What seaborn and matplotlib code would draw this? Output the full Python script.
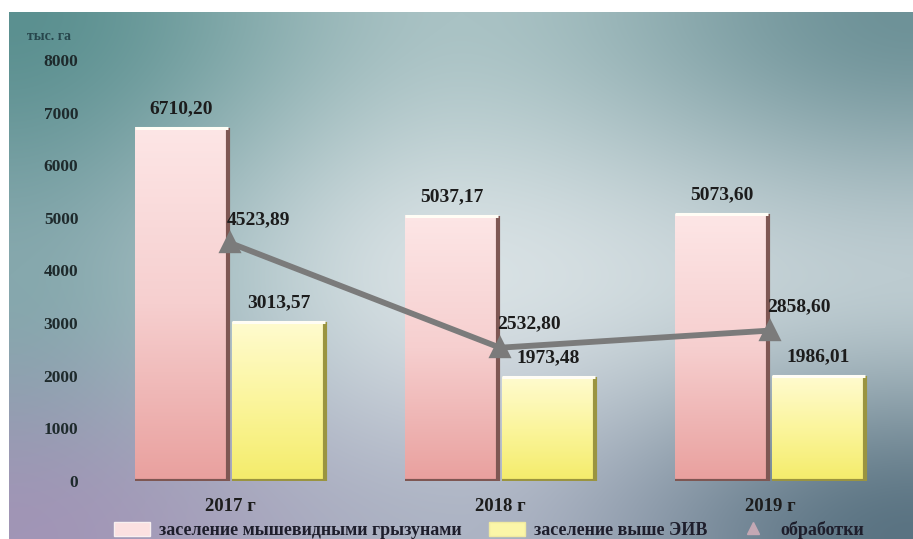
import numpy as np
import pandas as pd
import matplotlib
matplotlib.use("Agg")
import matplotlib.pyplot as plt
from matplotlib.colors import to_rgb, LinearSegmentedColormap
from matplotlib.patches import Rectangle
from matplotlib.lines import Line2D
import seaborn as sns

# --- data -------------------------------------------------------------
years = ["2017 г", "2018 г", "2019 г"]
populated = [6710.20, 5037.17, 5073.60]        # заселение мышевидными грызунами
above_threshold = [3013.57, 1973.48, 1986.01]  # заселение выше ЭИВ
treatments = [4523.89, 2532.80, 2858.60]       # обработки
series_names = ["заселение мышевидными грызунами", "заселение выше ЭИВ", "обработки"]
y_ticks = [0, 1000, 2000, 3000, 4000, 5000, 6000, 7000, 8000]
unit_label = "тыс. га"

df = pd.DataFrame({
    "year": years * 2,
    "series": [series_names[0]] * 3 + [series_names[1]] * 3,
    "value": populated + above_threshold,
})

sns.set_theme(style="white")
plt.rcParams["font.family"] = ["Liberation Serif", "DejaVu Serif"]
plt.rcParams["font.weight"] = "bold"

W, H = 913, 539
fig = plt.figure(figsize=(W / 100, H / 100), dpi=100)
fig.patch.set_facecolor("white")

# --- gradient backdrop ------------------------------------------------
bg = fig.add_axes([9 / W, 0, (W - 9) / W, (H - 12) / H], zorder=-10)
grid = np.array([
    [to_rgb("#5b9090"), to_rgb("#a9c2c4"), to_rgb("#6e9298")],
    [to_rgb("#86a8ad"), to_rgb("#d8e1e4"), to_rgb("#bccbd0")],
    [to_rgb("#a195b6"), to_rgb("#adb4c4"), to_rgb("#5a7382")],
])
ny, nx = 270, 460
yy = np.linspace(0, 2, ny)[:, None]
xx = np.linspace(0, 2, nx)[None, :]
img = np.zeros((ny, nx, 3))
for c in range(3):
    g = grid[:, :, c]
    iy = np.clip(np.floor(yy).astype(int), 0, 1)
    ix = np.clip(np.floor(xx).astype(int), 0, 1)
    fy = yy - iy
    fx = xx - ix
    fy = fy * fy * (3 - 2 * fy)
    fx = fx * fx * (3 - 2 * fx)
    a = g[iy, ix]; b = g[iy, ix + 1]; cc = g[iy + 1, ix]; d = g[iy + 1, ix + 1]
    img[:, :, c] = (a * (1 - fx) + b * fx) * (1 - fy) + (cc * (1 - fx) + d * fx) * fy
bg.imshow(img, aspect="auto", extent=[0, 1, 0, 1], interpolation="bilinear")
bg.set_axis_off()

# --- main axes --------------------------------------------------------
ax = fig.add_axes([95 / W, (H - 481) / H, 810 / W, 421 / H])
ax.set_facecolor("none")

sns.barplot(data=df, x="year", y="value", hue="series",
            palette=["#f4c4c4", "#fbf39a"], width=0.72, gap=0.05,
            edgecolor="none", legend=False, ax=ax)

ax.set_xlim(-0.5, 2.5)
ax.set_ylim(0, 8000)

# gradient fill and bevel edges on every bar
pink_cmap = LinearSegmentedColormap.from_list("pink", ["#e9a09e", "#f6cfcf", "#fde6e6"])
yellow_cmap = LinearSegmentedColormap.from_list("yel", ["#f4ec6a", "#fbf59c", "#fffbcf"])
ramp = np.linspace(0, 1, 256)[:, None]
bars = [p for p in ax.patches if isinstance(p, Rectangle) and p.get_height() > 0]
bar_values = [*populated, *above_threshold]
n_per = len(years)
for k, p in enumerate(bars):
    x, y0, w, h = p.get_x(), p.get_y(), p.get_width(), p.get_height()
    is_pink = k < n_per
    cmap = pink_cmap if is_pink else yellow_cmap
    ax.imshow(ramp, cmap=cmap, extent=[x, x + w, y0, y0 + h], origin="lower",
              aspect="auto", zorder=2.5)
    edge = "#7e5753" if is_pink else "#9a9440"
    ax.plot([x + w, x + w], [y0, y0 + h], color=edge, lw=3, zorder=2.7,
            solid_capstyle="butt")
    ax.plot([x, x + w], [y0, y0], color=edge, lw=3, zorder=2.7,
            solid_capstyle="butt")
    ax.plot([x, x + w], [y0 + h, y0 + h], color="#fffdf5", lw=2.2, zorder=2.7,
            solid_capstyle="butt")
    p.set_visible(False)
    ax.annotate(f"{bar_values[k]:.2f}".replace(".", ","),
                (x + w / 2, y0 + h), xytext=(0, 8), textcoords="offset points",
                ha="center", va="bottom", fontsize=14, fontweight="bold",
                color="#1c1c1c", zorder=5)

ax.set_xlim(-0.5, 2.5)
ax.set_ylim(0, 8000)

# treatments line
sns.pointplot(x=years, y=treatments, color="#7b7b7b", markers="^",
              markersize=11, linewidth=4.2, errorbar=None, ax=ax, zorder=4)
for i, v in enumerate(treatments):
    ax.annotate(f"{v:.2f}".replace(".", ","), (i, v), xytext=(-2, 17),
                textcoords="offset points", ha="left", va="center",
                fontsize=14, fontweight="bold", color="#1c1c1c", zorder=5)

ax.set_xlim(-0.5, 2.5)
ax.set_ylim(0, 8000)
ax.set_yticks(y_ticks)
ax.set_yticklabels([str(t) for t in y_ticks])
ax.tick_params(axis="y", length=0, pad=12, labelsize=12.5, labelcolor="#1e2a2c")
ax.tick_params(axis="x", length=0, pad=12, labelsize=13.5, labelcolor="#1c1c1c")
for lab in ax.get_xticklabels() + ax.get_yticklabels():
    lab.set_fontweight("bold")
ax.set_xlabel("")
ax.set_ylabel("")
ax.grid(False)
for s in ax.spines.values():
    s.set_visible(False)

fig.text(27 / W, 1 - 36 / H, unit_label, fontsize=10, fontweight="bold",
         color="#27464c", ha="left", va="center")

# legend
handles = [
    Rectangle((0, 0), 1, 1, facecolor="#fbe1e1", edgecolor="#f8f0f0"),
    Rectangle((0, 0), 1, 1, facecolor="#fbf6a8", edgecolor="#f0eaa0"),
    Line2D([], [], marker="^", color="#c4a8b4", linestyle="none", markersize=8),
]
leg = fig.legend(handles, series_names, loc="center", ncol=3,
                 bbox_to_anchor=(489 / W, 1 - 530 / H), frameon=False,
                 fontsize=13, handlelength=2.0, handleheight=0.8,
                 handletextpad=0.5, columnspacing=1.5)
for t in leg.get_texts():
    t.set_fontweight("bold")
    t.set_color("#1e1e2c")

fig.savefig("out.png", dpi=100)
